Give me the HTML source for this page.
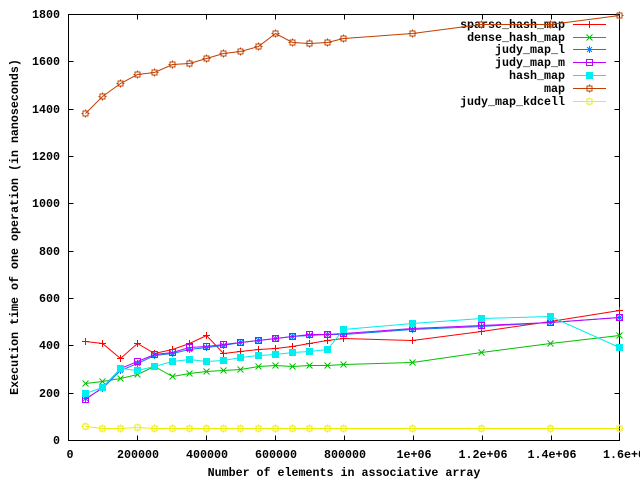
<!DOCTYPE html>
<html><head><meta charset="utf-8"><style>
html,body{margin:0;padding:0;background:#fff;}
svg{display:block;}
text{font-family:"Liberation Mono",monospace;font-weight:bold;font-size:11.67px;fill:#000;}
</style></head><body>
<svg width="640" height="480" viewBox="0 0 640 480" xmlns="http://www.w3.org/2000/svg">
<defs>
<g id="p1"><path d="M-3.5,0H3.5M0,-3.5V3.5" stroke="currentColor" fill="none"/></g>
<g id="p2"><path d="M-3,-3L3,3M-3,3L3,-3" stroke="currentColor" fill="none"/></g>
<g id="p3"><path d="M-3.5,0H3.5M0,-3.5V3.5M-2.5,-2.5L2.5,2.5M-2.5,2.5L2.5,-2.5" stroke="currentColor" fill="none"/></g>
<g id="p4"><rect x="-3" y="-3" width="6" height="6" stroke="currentColor" fill="none"/></g>
<g id="p5"><rect x="-3.5" y="-3.5" width="7" height="7" fill="currentColor"/></g>
<g id="p6"><rect x="-2.5" y="-2.5" width="5" height="5" stroke="currentColor" fill="none"/><path d="M0,-4V-2.5M0,2.5V4M-4,0H-2.5M2.5,0H4" stroke="currentColor" fill="none"/></g>
</defs>

<!-- legend text -->
<g text-anchor="end">
<text x="565" y="28">sparse_hash_map</text>
<text x="565" y="41">dense_hash_map</text>
<text x="565" y="53">judy_map_l</text>
<text x="565" y="66">judy_map_m</text>
<text x="565" y="79">hash_map</text>
<text x="565" y="92">map</text>
<text x="565" y="105">judy_map_kdcell</text>
</g>

<!-- border & ticks -->
<g stroke="#000" stroke-width="1" fill="none" shape-rendering="crispEdges">
<rect x="68.5" y="14.5" width="551" height="426"/>
<path d="M68.5,393.5h5M68.5,345.5h5M68.5,298.5h5M68.5,251.5h5M68.5,203.5h5M68.5,156.5h5M68.5,109.5h5M68.5,61.5h5
M619.5,393.5h-5M619.5,345.5h-5M619.5,298.5h-5M619.5,251.5h-5M619.5,203.5h-5M619.5,156.5h-5M619.5,109.5h-5M619.5,61.5h-5
M137.5,440.5v-5M206.5,440.5v-5M275.5,440.5v-5M344.5,440.5v-5M413.5,440.5v-5M482.5,440.5v-5M551.5,440.5v-5
M137.5,14.5v5M206.5,14.5v5M275.5,14.5v5M344.5,14.5v5M413.5,14.5v5M482.5,14.5v5M551.5,14.5v5"/>
</g>

<!-- y tick labels -->
<g text-anchor="end">
<text x="60" y="444">0</text>
<text x="60" y="397">200</text>
<text x="60" y="349">400</text>
<text x="60" y="302">600</text>
<text x="60" y="255">800</text>
<text x="60" y="207">1000</text>
<text x="60" y="160">1200</text>
<text x="60" y="113">1400</text>
<text x="60" y="65">1600</text>
<text x="60" y="18">1800</text>
</g>
<!-- x tick labels -->
<g text-anchor="middle">
<text x="70" y="458">0</text>
<text x="138" y="458">200000</text>
<text x="207" y="458">400000</text>
<text x="276" y="458">600000</text>
<text x="345" y="458">800000</text>
<text x="414" y="458">1e+06</text>
<text x="483" y="458">1.2e+06</text>
<text x="552" y="458">1.4e+06</text>
<text x="603" y="458" text-anchor="start">1.6e+0</text>
</g>
<text x="344" y="476" text-anchor="middle">Number of elements in associative array</text>
<text transform="translate(18,227) rotate(-90)" text-anchor="middle">Execution time of one operation (in nanoseconds)</text>

<!-- sparse_hash_map -->
<g style="color:#ff0000">
<path d="M573,24.5H606" stroke="#ff0000" fill="none"/><use href="#p1" x="589.5" y="24.5"/>
<polyline fill="none" stroke="#ff0000" points="85.5,341.5 102.5,343.5 120.5,358.5 137.5,343.5 154.5,353.5 172.5,349.5 189.5,343.5 206.5,335.5 223.5,353.5 240.5,351.5 258.5,349.5 275.5,348.5 292.5,346.5 309.5,343.5 327.5,340.5 343.5,338.5 412.5,340.5 481.5,331.5 550.5,321.5 619.5,310.5"/>
<use href="#p1" x="85.5" y="341.5"/><use href="#p1" x="102.5" y="343.5"/><use href="#p1" x="120.5" y="358.5"/><use href="#p1" x="137.5" y="343.5"/><use href="#p1" x="154.5" y="353.5"/><use href="#p1" x="172.5" y="349.5"/><use href="#p1" x="189.5" y="343.5"/><use href="#p1" x="206.5" y="335.5"/><use href="#p1" x="223.5" y="353.5"/><use href="#p1" x="240.5" y="351.5"/><use href="#p1" x="258.5" y="349.5"/><use href="#p1" x="275.5" y="348.5"/><use href="#p1" x="292.5" y="346.5"/><use href="#p1" x="309.5" y="343.5"/><use href="#p1" x="327.5" y="340.5"/><use href="#p1" x="343.5" y="338.5"/><use href="#p1" x="412.5" y="340.5"/><use href="#p1" x="481.5" y="331.5"/><use href="#p1" x="550.5" y="321.5"/><use href="#p1" x="619.5" y="310.5"/>
</g>

<!-- dense_hash_map -->
<g style="color:#00c000">
<path d="M573,37.5H606" stroke="#00c000" fill="none"/><use href="#p2" x="589.5" y="37.5"/>
<polyline fill="none" stroke="#00c000" points="85.5,383.5 102.5,381.5 120.5,378.5 137.5,374.5 154.5,366.5 172.5,376.5 189.5,373.5 206.5,371.5 223.5,370.5 240.5,369.5 258.5,366.5 275.5,365.5 292.5,366.5 309.5,365.5 327.5,365.5 343.5,364.5 412.5,362.5 481.5,352.5 550.5,343.5 619.5,335.5"/>
<use href="#p2" x="85.5" y="383.5"/><use href="#p2" x="102.5" y="381.5"/><use href="#p2" x="120.5" y="378.5"/><use href="#p2" x="137.5" y="374.5"/><use href="#p2" x="154.5" y="366.5"/><use href="#p2" x="172.5" y="376.5"/><use href="#p2" x="189.5" y="373.5"/><use href="#p2" x="206.5" y="371.5"/><use href="#p2" x="223.5" y="370.5"/><use href="#p2" x="240.5" y="369.5"/><use href="#p2" x="258.5" y="366.5"/><use href="#p2" x="275.5" y="365.5"/><use href="#p2" x="292.5" y="366.5"/><use href="#p2" x="309.5" y="365.5"/><use href="#p2" x="327.5" y="365.5"/><use href="#p2" x="343.5" y="364.5"/><use href="#p2" x="412.5" y="362.5"/><use href="#p2" x="481.5" y="352.5"/><use href="#p2" x="550.5" y="343.5"/><use href="#p2" x="619.5" y="335.5"/>
</g>

<!-- judy_map_l -->
<g style="color:#0080ff">
<path d="M573,49.5H606" stroke="#0080ff" fill="none"/><use href="#p3" x="589.5" y="49.5"/>
<polyline fill="none" stroke="#0080ff" points="85.5,398.5 102.5,388.5 120.5,370.5 137.5,363.5 154.5,355.5 172.5,353.5 189.5,349.5 206.5,347.5 223.5,345.5 240.5,342.5 258.5,340.5 275.5,338.5 292.5,336.5 309.5,335.5 327.5,334.5 343.5,334.5 412.5,329.5 481.5,326.5 550.5,322.5 619.5,317.5"/>
<use href="#p3" x="85.5" y="398.5"/><use href="#p3" x="102.5" y="388.5"/><use href="#p3" x="120.5" y="370.5"/><use href="#p3" x="137.5" y="363.5"/><use href="#p3" x="154.5" y="355.5"/><use href="#p3" x="172.5" y="353.5"/><use href="#p3" x="189.5" y="349.5"/><use href="#p3" x="206.5" y="347.5"/><use href="#p3" x="223.5" y="345.5"/><use href="#p3" x="240.5" y="342.5"/><use href="#p3" x="258.5" y="340.5"/><use href="#p3" x="275.5" y="338.5"/><use href="#p3" x="292.5" y="336.5"/><use href="#p3" x="309.5" y="335.5"/><use href="#p3" x="327.5" y="334.5"/><use href="#p3" x="343.5" y="334.5"/><use href="#p3" x="412.5" y="329.5"/><use href="#p3" x="481.5" y="326.5"/><use href="#p3" x="550.5" y="322.5"/><use href="#p3" x="619.5" y="317.5"/>
</g>

<!-- judy_map_m -->
<g style="color:#c000ff">
<path d="M573,62.5H606" stroke="#c000ff" fill="none"/><use href="#p4" x="589.5" y="62.5"/>
<polyline fill="none" stroke="#c000ff" points="85.5,399.5 102.5,387.5 120.5,368.5 137.5,361.5 154.5,354.5 172.5,352.5 189.5,347.5 206.5,346.5 223.5,344.5 240.5,342.5 258.5,340.5 275.5,338.5 292.5,336.5 309.5,334.5 327.5,334.5 343.5,333.5 412.5,328.5 481.5,325.5 550.5,322.5 619.5,317.5"/>
<use href="#p4" x="85.5" y="399.5"/><use href="#p4" x="102.5" y="387.5"/><use href="#p4" x="120.5" y="368.5"/><use href="#p4" x="137.5" y="361.5"/><use href="#p4" x="154.5" y="354.5"/><use href="#p4" x="172.5" y="352.5"/><use href="#p4" x="189.5" y="347.5"/><use href="#p4" x="206.5" y="346.5"/><use href="#p4" x="223.5" y="344.5"/><use href="#p4" x="240.5" y="342.5"/><use href="#p4" x="258.5" y="340.5"/><use href="#p4" x="275.5" y="338.5"/><use href="#p4" x="292.5" y="336.5"/><use href="#p4" x="309.5" y="334.5"/><use href="#p4" x="327.5" y="334.5"/><use href="#p4" x="343.5" y="333.5"/><use href="#p4" x="412.5" y="328.5"/><use href="#p4" x="481.5" y="325.5"/><use href="#p4" x="550.5" y="322.5"/><use href="#p4" x="619.5" y="317.5"/>
</g>

<!-- hash_map -->
<g style="color:#00eeee">
<path d="M573,75.5H606" stroke="#00eeee" fill="none"/><use href="#p5" x="589.5" y="75.5"/>
<polyline fill="none" stroke="#00eeee" points="85.5,393.5 102.5,387.5 120.5,368.5 137.5,370.5 154.5,366.5 172.5,361.5 189.5,359.5 206.5,361.5 223.5,360.5 240.5,357.5 258.5,355.5 275.5,354.5 292.5,352.5 309.5,351.5 327.5,349.5 343.5,329.5 412.5,323.5 481.5,318.5 550.5,316.5 619.5,347.5"/>
<use href="#p5" x="85.5" y="393.5"/><use href="#p5" x="102.5" y="387.5"/><use href="#p5" x="120.5" y="368.5"/><use href="#p5" x="137.5" y="370.5"/><use href="#p5" x="154.5" y="366.5"/><use href="#p5" x="172.5" y="361.5"/><use href="#p5" x="189.5" y="359.5"/><use href="#p5" x="206.5" y="361.5"/><use href="#p5" x="223.5" y="360.5"/><use href="#p5" x="240.5" y="357.5"/><use href="#p5" x="258.5" y="355.5"/><use href="#p5" x="275.5" y="354.5"/><use href="#p5" x="292.5" y="352.5"/><use href="#p5" x="309.5" y="351.5"/><use href="#p5" x="327.5" y="349.5"/><use href="#p5" x="343.5" y="329.5"/><use href="#p5" x="412.5" y="323.5"/><use href="#p5" x="481.5" y="318.5"/><use href="#p5" x="550.5" y="316.5"/><use href="#p5" x="619.5" y="347.5"/>
</g>

<!-- map -->
<g style="color:#c04000">
<path d="M573,88.5H606" stroke="#c04000" fill="none"/><use href="#p6" x="589.5" y="88.5"/>
<polyline fill="none" stroke="#c04000" points="85.5,113.5 102.5,96.5 120.5,83.5 137.5,74.5 154.5,72.5 172.5,64.5 189.5,63.5 206.5,58.5 223.5,53.5 240.5,51.5 258.5,46.5 275.5,33.5 292.5,42.5 309.5,43.5 327.5,42.5 343.5,38.5 412.5,33.5 481.5,24.5 550.5,24.5 619.5,15.5"/>
<use href="#p6" x="85.5" y="113.5"/><use href="#p6" x="102.5" y="96.5"/><use href="#p6" x="120.5" y="83.5"/><use href="#p6" x="137.5" y="74.5"/><use href="#p6" x="154.5" y="72.5"/><use href="#p6" x="172.5" y="64.5"/><use href="#p6" x="189.5" y="63.5"/><use href="#p6" x="206.5" y="58.5"/><use href="#p6" x="223.5" y="53.5"/><use href="#p6" x="240.5" y="51.5"/><use href="#p6" x="258.5" y="46.5"/><use href="#p6" x="275.5" y="33.5"/><use href="#p6" x="292.5" y="42.5"/><use href="#p6" x="309.5" y="43.5"/><use href="#p6" x="327.5" y="42.5"/><use href="#p6" x="343.5" y="38.5"/><use href="#p6" x="412.5" y="33.5"/><use href="#p6" x="481.5" y="24.5"/><use href="#p6" x="550.5" y="24.5"/><use href="#p6" x="619.5" y="15.5"/>
</g>

<!-- judy_map_kdcell -->
<g style="color:#eeee00">
<path d="M573,101.5H606" stroke="#eeee00" fill="none"/><use href="#p6" x="589.5" y="101.5"/>
<polyline fill="none" stroke="#eeee00" points="85.5,426.5 102.5,428.5 120.5,428.5 137.5,427.5 154.5,428.5 172.5,428.5 189.5,428.5 206.5,428.5 223.5,428.5 240.5,428.5 258.5,428.5 275.5,428.5 292.5,428.5 309.5,428.5 327.5,428.5 343.5,428.5 412.5,428.5 481.5,428.5 550.5,428.5 619.5,428.5"/>
<use href="#p6" x="85.5" y="426.5"/><use href="#p6" x="102.5" y="428.5"/><use href="#p6" x="120.5" y="428.5"/><use href="#p6" x="137.5" y="427.5"/><use href="#p6" x="154.5" y="428.5"/><use href="#p6" x="172.5" y="428.5"/><use href="#p6" x="189.5" y="428.5"/><use href="#p6" x="206.5" y="428.5"/><use href="#p6" x="223.5" y="428.5"/><use href="#p6" x="240.5" y="428.5"/><use href="#p6" x="258.5" y="428.5"/><use href="#p6" x="275.5" y="428.5"/><use href="#p6" x="292.5" y="428.5"/><use href="#p6" x="309.5" y="428.5"/><use href="#p6" x="327.5" y="428.5"/><use href="#p6" x="343.5" y="428.5"/><use href="#p6" x="412.5" y="428.5"/><use href="#p6" x="481.5" y="428.5"/><use href="#p6" x="550.5" y="428.5"/><use href="#p6" x="619.5" y="428.5"/>
</g>
</svg>
</body></html>
